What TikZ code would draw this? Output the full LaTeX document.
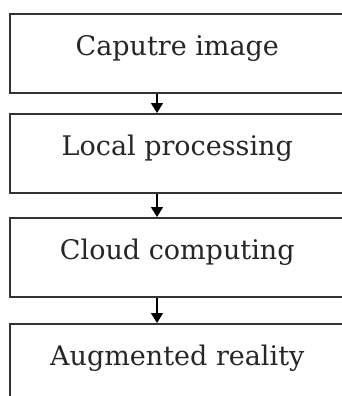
\documentclass[tikz,border=0pt]{standalone}
\usepackage{fontspec}
\setmainfont{DejaVu Serif}
\usetikzlibrary{arrows.meta}

\begin{document}
\begin{tikzpicture}[x=1pt, y=1pt,
    stage/.style={draw=black!80, line width=1.6pt, anchor=north west,
        minimum width=335pt, minimum height=79pt, inner sep=0pt,
        font=\fontsize{27}{32}\selectfont, text=black!85, text height=22pt, text depth=18pt},
    flow/.style={-{Triangle[width=12pt, length=10pt]}, line width=1.5pt, black}]
    % Page frame
    \useasboundingbox (0,0) rectangle (342,-396);
    \clip (0,0) rectangle (342,-396);

    % The four stages
    \node[stage] (capture) at (9,-13) {Caputre image};
    \node[stage] (local) at (9,-113) {Local processing};
    \node[stage] (cloud) at (9,-217) {Cloud computing};
    \node[stage] (augment) at (9,-323) {Augmented reality};

    % Arrows between stages
    \coordinate (spine) at (157,0);
    \draw[flow] (capture.south -| spine) -- (local.north -| spine);
    \draw[flow] (local.south -| spine) -- (cloud.north -| spine);
    \draw[flow] (cloud.south -| spine) -- (augment.north -| spine);
\end{tikzpicture}
\end{document}
